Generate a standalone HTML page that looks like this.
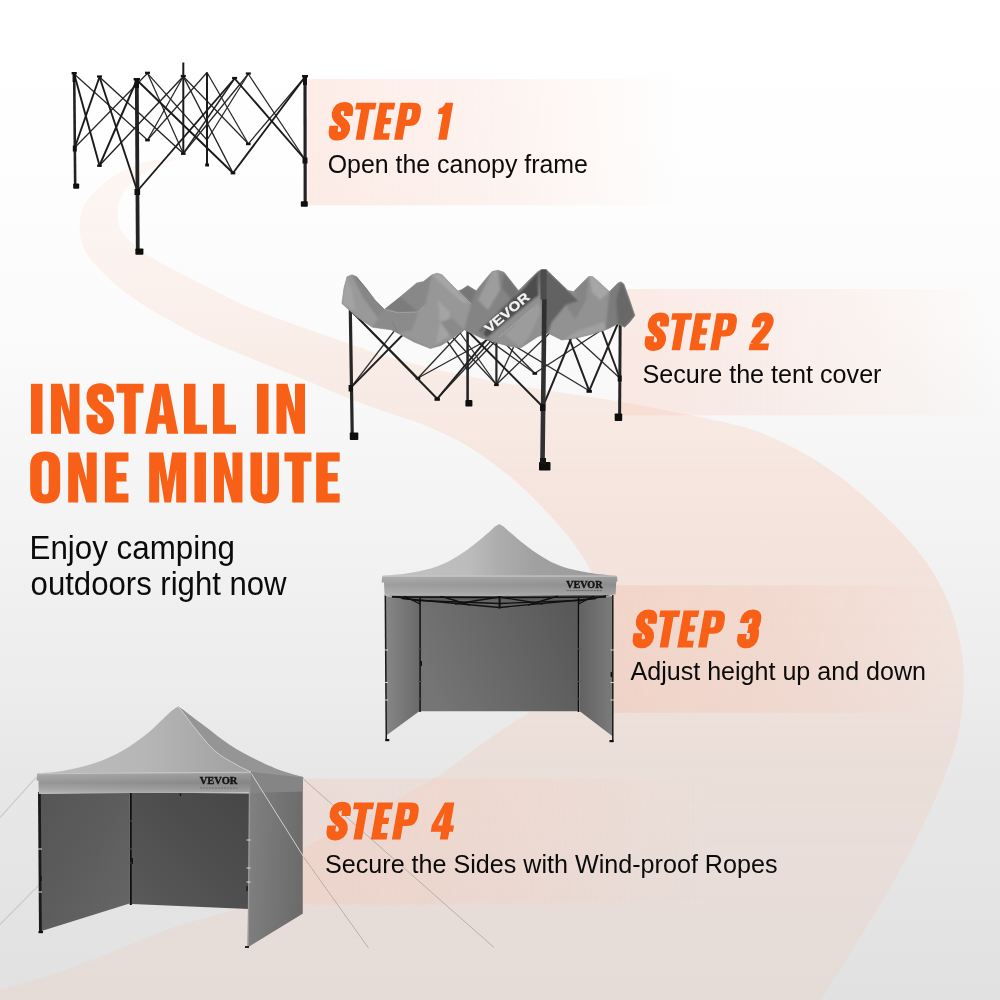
<!DOCTYPE html>
<html><head><meta charset="utf-8"><title>Install in one minute</title>
<style>
html,body{margin:0;padding:0;background:#fff;}
#root{position:relative;width:1000px;height:1000px;overflow:hidden;background:linear-gradient(180deg,#ffffff 0%,#fefefe 15%,#fbfbfb 32%,#f4f4f4 50%,#eeeeee 65%,#e8e8e8 76%,#e1e1e1 100%);}
svg{position:absolute;left:0;top:0;will-change:transform;}
text{font-family:"Liberation Sans",sans-serif;}
</style></head><body><div id="root">
<svg width="1000" height="1000" viewBox="0 0 1000 1000">
<defs>
<linearGradient id="rib" x1="0" y1="160" x2="0" y2="1000" gradientUnits="userSpaceOnUse">
<stop offset="0" stop-color="#fabea5" stop-opacity="0.12"/>
<stop offset="0.1" stop-color="#fabea5" stop-opacity="0.14"/>
<stop offset="0.24" stop-color="#fabea5" stop-opacity="0.22"/>
<stop offset="0.41" stop-color="#fabea5" stop-opacity="0.28"/>
<stop offset="0.58" stop-color="#fabea5" stop-opacity="0.25"/>
<stop offset="0.70" stop-color="#fabea5" stop-opacity="0.21"/>
<stop offset="0.93" stop-color="#fabea5" stop-opacity="0.17"/>
<stop offset="1" stop-color="#fabea5" stop-opacity="0.16"/>
</linearGradient>
<linearGradient id="band" x1="0" y1="0" x2="1" y2="0">
<stop offset="0" stop-color="#fabeaa" stop-opacity="0.28"/>
<stop offset="0.5" stop-color="#fabeaa" stop-opacity="0.17"/>
<stop offset="1" stop-color="#fabeaa" stop-opacity="0"/>
</linearGradient>
<linearGradient id="band3" x1="0" y1="0" x2="1" y2="0">
<stop offset="0" stop-color="#f2beaa" stop-opacity="0.40"/>
<stop offset="0.5" stop-color="#f2beaa" stop-opacity="0.26"/>
<stop offset="1" stop-color="#f2beaa" stop-opacity="0"/>
</linearGradient>
</defs>
<path d="M181.0,157.3 C174.6,158.2 154.8,159.1 142.6,162.9 C130.4,166.7 117.7,172.4 107.8,180.0 C97.8,187.6 87.2,197.7 82.9,208.6 C78.7,219.4 78.6,234.0 82.4,245.1 C86.1,256.3 96.6,266.3 105.6,275.4 C114.6,284.6 125.4,292.5 136.1,299.9 C146.8,307.4 158.2,313.7 169.6,320.2 C180.9,326.6 192.4,332.9 204.2,338.6 C216.0,344.2 228.1,349.0 240.2,354.1 C252.2,359.1 264.4,363.8 276.5,368.6 C288.7,373.5 300.9,378.2 312.9,383.2 C325.0,388.2 336.9,393.7 349.0,398.5 C361.1,403.4 373.4,407.8 385.7,412.1 C398.0,416.4 410.7,419.7 422.8,424.4 C434.9,429.2 446.9,434.6 458.3,440.8 C469.7,447.1 480.7,454.2 491.3,461.9 C501.8,469.6 511.8,478.0 521.4,486.8 C531.1,495.6 540.2,505.0 549.0,514.6 C557.9,524.2 566.9,533.8 574.4,544.4 C581.8,554.9 589.5,565.9 593.7,577.9 C597.9,589.8 599.7,603.4 599.7,616.1 C599.7,628.8 598.6,642.7 593.9,654.1 C589.3,665.4 581.0,675.7 571.8,684.3 C562.7,692.9 550.2,698.7 539.3,705.8 C528.3,713.0 517.2,719.8 506.3,727.1 C495.5,734.4 484.8,741.9 474.2,749.5 C463.6,757.1 453.5,765.5 442.6,772.7 C431.8,779.9 420.4,786.3 409.0,792.7 C397.6,799.1 385.9,804.9 374.3,811.0 C362.8,817.1 351.2,823.2 339.7,829.3 C328.2,835.5 315.8,840.3 305.3,847.8 C294.8,855.3 285.8,864.9 276.7,874.1 C267.6,883.2 261.0,895.9 250.8,902.7 C240.6,909.5 227.6,911.1 215.5,914.9 C203.4,918.7 190.4,921.5 178.0,925.7 C165.7,929.9 153.7,935.3 141.6,940.2 C129.5,945.0 117.4,949.9 105.2,954.8 C93.1,959.6 81.0,964.7 68.7,969.0 C56.4,973.3 42.8,977.2 31.3,980.7 C19.9,984.2 5.2,988.5 -0.0,990.0 L0,1000 L820,1000 L821.0,1000.0 C823.7,995.6 831.4,983.3 837.5,973.6 C843.5,963.9 850.7,952.5 857.3,942.0 C863.8,931.4 870.4,920.8 876.8,910.2 C883.2,899.5 889.6,888.8 895.7,878.0 C901.8,867.1 907.5,856.1 913.2,845.0 C918.8,833.9 924.3,822.7 929.5,811.4 C934.7,800.1 939.8,788.8 944.3,777.2 C948.8,765.6 953.4,754.0 956.4,742.0 C959.4,730.0 961.3,717.6 962.5,705.3 C963.7,693.0 964.2,680.4 963.4,668.1 C962.6,655.8 960.6,643.4 957.7,631.4 C954.7,619.5 950.7,607.6 945.7,596.3 C940.7,585.1 934.4,574.2 927.5,564.0 C920.5,553.8 912.2,544.4 903.9,535.1 C895.6,525.9 886.7,517.2 877.6,508.7 C868.5,500.2 859.2,492.0 849.5,484.2 C839.8,476.5 829.7,469.1 819.3,462.4 C808.8,455.8 797.8,449.8 786.7,444.3 C775.5,438.9 764.1,433.7 752.4,429.7 C740.7,425.7 728.6,423.1 716.5,420.4 C704.4,417.6 692.1,415.6 679.9,413.2 C667.7,410.7 655.5,408.0 643.3,405.7 C631.1,403.4 618.8,401.3 606.5,399.4 C594.2,397.4 581.9,396.0 569.6,394.1 C557.3,392.2 545.0,390.0 532.7,387.9 C520.5,385.8 508.2,383.6 496.0,381.4 C483.7,379.2 471.5,377.1 459.3,374.6 C447.1,372.1 435.0,369.2 422.9,366.2 C410.9,363.2 398.8,360.2 386.9,356.6 C375.0,353.0 363.3,348.6 351.6,344.5 C339.8,340.5 328.1,336.4 316.3,332.2 C304.6,328.1 292.8,324.0 281.2,319.7 C269.5,315.3 257.8,311.1 246.4,306.2 C235.0,301.2 224.0,295.4 212.9,289.8 C201.7,284.3 190.6,278.7 179.6,272.8 C168.7,266.9 157.0,261.7 147.2,254.5 C137.4,247.3 125.1,239.2 120.7,229.6 C116.3,220.0 116.7,206.5 121.0,196.8 C125.3,187.1 136.7,177.8 146.7,171.2 C156.7,164.7 175.3,160.0 181.0,157.7 Z" fill="url(#rib)"/>
<rect x="307.5" y="79" width="375" height="126.3" fill="url(#band)"/>
<rect x="621" y="289" width="379" height="126.3" fill="url(#band)"/>
<rect x="600" y="585.2" width="350" height="127.6" fill="url(#band3)"/>
<rect x="300" y="778.5" width="410" height="126" fill="url(#band)"/>
<defs>
<linearGradient id="t3back" x1="0" y1="0.6" x2="1" y2="0.3"><stop offset="0" stop-color="#757575"/><stop offset="0.5" stop-color="#676767"/><stop offset="1" stop-color="#595959"/></linearGradient>
<linearGradient id="t3roof" x1="383" y1="0" x2="616" y2="0" gradientUnits="userSpaceOnUse"><stop offset="0" stop-color="#c2c2c2"/><stop offset="0.36" stop-color="#bcbcbc"/><stop offset="0.5" stop-color="#adadad"/><stop offset="0.66" stop-color="#a0a0a0"/><stop offset="1" stop-color="#9b9b9b"/></linearGradient>
<linearGradient id="t3val" x1="0" y1="0" x2="0" y2="1"><stop offset="0" stop-color="#c6c6c6"/><stop offset="0.08" stop-color="#a6a6a6"/><stop offset="0.45" stop-color="#979797"/><stop offset="0.85" stop-color="#a7a7a7"/><stop offset="1" stop-color="#b2b2b2"/></linearGradient>
<linearGradient id="t3side" x1="0" y1="0" x2="1" y2="0"><stop offset="0" stop-color="#878787"/><stop offset="1" stop-color="#6a6a6a"/></linearGradient>
<linearGradient id="t3sideR" x1="0" y1="0" x2="1" y2="0"><stop offset="0" stop-color="#626262"/><stop offset="1" stop-color="#7b7b7b"/></linearGradient>
<linearGradient id="t4val" x1="0" y1="0" x2="0" y2="1"><stop offset="0" stop-color="#c4c4c4"/><stop offset="0.08" stop-color="#a4a4a4"/><stop offset="0.5" stop-color="#8f8f8f"/><stop offset="0.85" stop-color="#a5a5a5"/><stop offset="1" stop-color="#bababa"/></linearGradient>
<linearGradient id="valshade" x1="0" y1="0" x2="1" y2="0"><stop offset="0" stop-color="#fff" stop-opacity="0.06"/><stop offset="1" stop-color="#000" stop-opacity="0.07"/></linearGradient>
<linearGradient id="t4back" x1="1" y1="0" x2="0" y2="1"><stop offset="0" stop-color="#464646"/><stop offset="0.5" stop-color="#4f4f4f"/><stop offset="1" stop-color="#5a5a5a"/></linearGradient>
<linearGradient id="t4left" x1="0" y1="0" x2="1" y2="1"><stop offset="0" stop-color="#555555"/><stop offset="0.5" stop-color="#5d5d5d"/><stop offset="1" stop-color="#676767"/></linearGradient>
<linearGradient id="t4right" x1="0" y1="0" x2="1" y2="0.15"><stop offset="0" stop-color="#828282"/><stop offset="0.3" stop-color="#7b7b7b"/><stop offset="1" stop-color="#6c6c6c"/></linearGradient>
<linearGradient id="t4roofL" x1="37" y1="0" x2="251" y2="0" gradientUnits="userSpaceOnUse"><stop offset="0" stop-color="#bdbdbd"/><stop offset="0.5" stop-color="#b6b6b6"/><stop offset="0.8" stop-color="#a8a8a8"/><stop offset="1" stop-color="#a1a1a1"/></linearGradient>
<filter id="fblur" x="-5%" y="-5%" width="110%" height="110%"><feGaussianBlur stdDeviation="1.1"/></filter>
<linearGradient id="fabg" x1="0" y1="0" x2="0" y2="1"><stop offset="0" stop-color="#979797"/><stop offset="1" stop-color="#868686"/></linearGradient>
</defs>

<g id="frame1"><line x1="74.2" y1="74.0" x2="147.5" y2="140.0" stroke="#262626" stroke-width="1.25" />
<line x1="74.8" y1="147.5" x2="147.5" y2="73.3" stroke="#262626" stroke-width="1.25" />
<line x1="147.5" y1="73.3" x2="207.0" y2="140.0" stroke="#262626" stroke-width="1.25" />
<line x1="147.5" y1="140.0" x2="207.0" y2="72.5" stroke="#262626" stroke-width="1.25" />
<line x1="207.0" y1="72.5" x2="248.3" y2="143.8" stroke="#262626" stroke-width="1.25" />
<line x1="207.0" y1="140.0" x2="248.3" y2="74.0" stroke="#262626" stroke-width="1.25" />
<line x1="248.3" y1="74.0" x2="305.0" y2="159.5" stroke="#262626" stroke-width="1.25" />
<line x1="248.3" y1="143.8" x2="305.0" y2="77.0" stroke="#262626" stroke-width="1.25" />
<line x1="147.5" y1="73.3" x2="183.3" y2="153.5" stroke="#262626" stroke-width="1.25" />
<line x1="147.5" y1="140.0" x2="183.3" y2="76.5" stroke="#262626" stroke-width="1.25" />
<line x1="248.3" y1="74.0" x2="183.3" y2="153.5" stroke="#262626" stroke-width="1.25" />
<line x1="248.3" y1="143.8" x2="183.3" y2="76.5" stroke="#262626" stroke-width="1.25" />
<line x1="207.0" y1="72.5" x2="207.0" y2="166.0" stroke="#1a1a1a" stroke-width="2" />
<rect x="205.2" y="163.5" width="3.8" height="3" fill="#111"/>
<line x1="183.3" y1="62.5" x2="183.3" y2="154.0" stroke="#1a1a1a" stroke-width="2" />
<line x1="99.5" y1="77.0" x2="183.3" y2="153.5" stroke="#222" stroke-width="1.4" />
<line x1="99.5" y1="165.5" x2="183.3" y2="76.5" stroke="#222" stroke-width="1.4" />
<line x1="234.6" y1="78.5" x2="183.3" y2="153.5" stroke="#222" stroke-width="1.4" />
<line x1="233.0" y1="173.0" x2="183.3" y2="76.5" stroke="#222" stroke-width="1.4" />
<line x1="74.2" y1="74.0" x2="99.5" y2="165.5" stroke="#1a1a1a" stroke-width="1.9" />
<line x1="74.8" y1="147.5" x2="99.5" y2="77.0" stroke="#1a1a1a" stroke-width="1.9" />
<line x1="99.5" y1="77.0" x2="137.3" y2="191.0" stroke="#1a1a1a" stroke-width="1.9" />
<line x1="99.5" y1="165.5" x2="136.8" y2="80.0" stroke="#1a1a1a" stroke-width="1.9" />
<line x1="136.8" y1="80.0" x2="233.0" y2="173.0" stroke="#1a1a1a" stroke-width="1.9" />
<line x1="137.3" y1="191.0" x2="234.6" y2="78.5" stroke="#1a1a1a" stroke-width="1.9" />
<line x1="234.6" y1="78.5" x2="305.0" y2="159.5" stroke="#1a1a1a" stroke-width="1.9" />
<line x1="233.0" y1="173.0" x2="305.0" y2="77.0" stroke="#1a1a1a" stroke-width="1.9" />
<rect x="97.0" y="75.4" width="5" height="2.2" fill="#111"/>
<rect x="145.0" y="71.7" width="5" height="2.2" fill="#111"/>
<rect x="232.1" y="76.9" width="5" height="2.2" fill="#111"/>
<rect x="245.8" y="72.4" width="5" height="2.2" fill="#111"/>
<rect x="180.8" y="74.9" width="5" height="2.2" fill="#111"/>
<rect x="97.2" y="164.5" width="4.6" height="2.4" fill="#111"/>
<rect x="145.2" y="139.0" width="4.6" height="2.4" fill="#111"/>
<rect x="230.7" y="172.0" width="4.6" height="2.4" fill="#111"/>
<rect x="246.0" y="142.8" width="4.6" height="2.4" fill="#111"/>
<rect x="181.0" y="152.5" width="4.6" height="2.4" fill="#111"/>
<line x1="74.2" y1="74.0" x2="75.2" y2="188.0" stroke="#222" stroke-width="2.6" />
<line x1="136.8" y1="80.0" x2="137.8" y2="254.0" stroke="#232323" stroke-width="3.8" />
<line x1="305.0" y1="77.0" x2="305.2" y2="206.0" stroke="#232323" stroke-width="3.2" />
<rect x="72.6" y="73.0" width="3.2" height="9" fill="#111"/>
<rect x="71.6" y="72.0" width="5.2" height="2.4" fill="#111"/>
<rect x="134.6" y="79.0" width="4.4" height="9" fill="#111"/>
<rect x="133.6" y="78.0" width="6.4" height="2.4" fill="#111"/>
<rect x="303.0" y="76.0" width="4.0" height="9" fill="#111"/>
<rect x="302.0" y="75.0" width="6.0" height="2.4" fill="#111"/>
<rect x="72.8" y="145.5" width="4.0" height="6" fill="#111"/>
<rect x="134.5" y="189.0" width="5.6" height="6" fill="#111"/>
<rect x="302.5" y="157.5" width="5.0" height="6" fill="#111"/>
<rect x="73.2" y="183.4" width="6.0" height="5.4" rx="0.8" fill="#0e0e0e"/>
<rect x="135.4" y="248.4" width="8.0" height="6.4" rx="0.8" fill="#0e0e0e"/>
<rect x="300.8" y="201.2" width="7.0" height="5.6" rx="0.8" fill="#0e0e0e"/></g>
<g id="tent2"><line x1="350.3" y1="310.0" x2="418.0" y2="378.0" stroke="#2a2a2a" stroke-width="1.3" />
<line x1="350.8" y1="387.6" x2="418.0" y2="300.0" stroke="#2a2a2a" stroke-width="1.3" />
<line x1="418.0" y1="300.0" x2="467.6" y2="370.0" stroke="#2a2a2a" stroke-width="1.3" />
<line x1="418.0" y1="378.0" x2="467.6" y2="325.0" stroke="#2a2a2a" stroke-width="1.3" />
<line x1="467.6" y1="325.0" x2="534.8" y2="373.2" stroke="#2a2a2a" stroke-width="1.3" />
<line x1="467.6" y1="370.0" x2="535.0" y2="300.0" stroke="#2a2a2a" stroke-width="1.3" />
<line x1="535.0" y1="300.0" x2="619.7" y2="378.0" stroke="#2a2a2a" stroke-width="1.3" />
<line x1="534.8" y1="373.2" x2="620.2" y2="318.0" stroke="#2a2a2a" stroke-width="1.3" />
<line x1="418.0" y1="300.0" x2="496.4" y2="384.5" stroke="#2a2a2a" stroke-width="1.3" />
<line x1="418.0" y1="378.0" x2="496.4" y2="335.0" stroke="#2a2a2a" stroke-width="1.3" />
<line x1="535.0" y1="300.0" x2="496.4" y2="384.5" stroke="#2a2a2a" stroke-width="1.3" />
<line x1="534.8" y1="373.2" x2="496.4" y2="335.0" stroke="#2a2a2a" stroke-width="1.3" />
<line x1="437.0" y1="300.0" x2="496.4" y2="384.5" stroke="#2a2a2a" stroke-width="1.3" />
<line x1="437.2" y1="398.8" x2="496.4" y2="335.0" stroke="#2a2a2a" stroke-width="1.3" />
<line x1="589.0" y1="295.0" x2="496.4" y2="384.5" stroke="#2a2a2a" stroke-width="1.3" />
<line x1="589.2" y1="390.8" x2="496.4" y2="335.0" stroke="#2a2a2a" stroke-width="1.3" />
<line x1="467.6" y1="325.0" x2="467.6" y2="405.5" stroke="#262626" stroke-width="2.6" />
<rect x="465.4" y="400.1" width="7.0" height="6.5" rx="0.8" fill="#0e0e0e"/>
<line x1="496.4" y1="335.0" x2="496.4" y2="385.5" stroke="#262626" stroke-width="2.2" />
<rect x="415.7" y="377.0" width="4.6" height="2.6" fill="#111"/>
<rect x="532.5" y="372.2" width="4.6" height="2.6" fill="#111"/>
<rect x="494.1" y="383.5" width="4.6" height="2.6" fill="#111"/>
<line x1="350.3" y1="310.0" x2="437.2" y2="398.8" stroke="#202020" stroke-width="2" />
<line x1="350.8" y1="387.6" x2="437.0" y2="300.0" stroke="#202020" stroke-width="2" />
<line x1="437.0" y1="300.0" x2="542.8" y2="406.8" stroke="#202020" stroke-width="2" />
<line x1="437.2" y1="398.8" x2="543.8" y2="271.0" stroke="#202020" stroke-width="2" />
<line x1="543.8" y1="271.0" x2="589.2" y2="390.8" stroke="#202020" stroke-width="2" />
<line x1="542.8" y1="406.8" x2="589.0" y2="295.0" stroke="#202020" stroke-width="2" />
<line x1="589.0" y1="295.0" x2="619.7" y2="378.0" stroke="#202020" stroke-width="2" />
<line x1="589.2" y1="390.8" x2="620.2" y2="318.0" stroke="#202020" stroke-width="2" />
<rect x="434.5" y="397.8" width="5.4" height="3" fill="#111"/>
<rect x="586.5" y="389.8" width="5.4" height="3" fill="#111"/>
<line x1="350.3" y1="310.0" x2="352.3" y2="439.0" stroke="#262626" stroke-width="3.2" />
<rect x="348.6" y="385" width="4.4" height="6.5" fill="#111"/>
<rect x="349.8" y="432.5" width="8.5" height="7.5" rx="0.8" fill="#0e0e0e"/>
<line x1="620.2" y1="318.0" x2="619.6" y2="420.0" stroke="#262626" stroke-width="3" />
<rect x="617.7" y="375.5" width="4" height="6" fill="#111"/>
<rect x="614.7" y="413.5" width="7.5" height="7.5" rx="0.8" fill="#0e0e0e"/>
<clipPath id="fabclip"><path d="M341.9,303.5 L344.0,288.0 L347.0,276.8 L352.0,274.8 L356.4,276.6 L366.0,288.0 L375.0,300.0 L384.4,309.4 L400.0,297.0 L416.7,283.0 L423.5,281.4 L432.0,274.8 L437.0,273.2 L442.2,274.8 L450.0,283.0 L458.0,291.0 L462.0,289.5 L467.7,285.6 L476.2,290.7 L484.0,281.0 L492.1,271.5 L498.0,270.2 L504.0,272.2 L511.0,281.0 L518.5,290.7 L528.0,281.0 L538.0,271.4 L542.0,269.6 L546.5,269.8 L556.0,279.0 L568.0,290.5 L573.7,291.6 L581.0,284.0 L589.0,276.3 L593.0,276.8 L600.0,283.0 L609.4,291.6 L614.0,287.0 L617.9,283.0 L621.0,281.8 L623.9,283.9 L629.0,298.0 L634.9,315.4 L630.0,322.0 L624.7,327.3 L617.9,323.9 L606.0,329.8 L589.0,334.9 L575.4,338.3 L561.8,340.0 L548.2,333.2 L538.0,336.6 L521.0,347.7 L510.0,346.5 L498.9,343.4 L481.9,338.3 L464.3,329.8 L452.4,338.3 L441.0,345.5 L430.3,348.5 L414.0,342.0 L398.0,333.2 L391.2,329.8 L372.5,327.3 L357.0,317.0 L341.9,303.5Z"/></clipPath>
<path d="M341.9,303.5 L344.0,288.0 L347.0,276.8 L352.0,274.8 L356.4,276.6 L366.0,288.0 L375.0,300.0 L384.4,309.4 L400.0,297.0 L416.7,283.0 L423.5,281.4 L432.0,274.8 L437.0,273.2 L442.2,274.8 L450.0,283.0 L458.0,291.0 L462.0,289.5 L467.7,285.6 L476.2,290.7 L484.0,281.0 L492.1,271.5 L498.0,270.2 L504.0,272.2 L511.0,281.0 L518.5,290.7 L528.0,281.0 L538.0,271.4 L542.0,269.6 L546.5,269.8 L556.0,279.0 L568.0,290.5 L573.7,291.6 L581.0,284.0 L589.0,276.3 L593.0,276.8 L600.0,283.0 L609.4,291.6 L614.0,287.0 L617.9,283.0 L621.0,281.8 L623.9,283.9 L629.0,298.0 L634.9,315.4 L630.0,322.0 L624.7,327.3 L617.9,323.9 L606.0,329.8 L589.0,334.9 L575.4,338.3 L561.8,340.0 L548.2,333.2 L538.0,336.6 L521.0,347.7 L510.0,346.5 L498.9,343.4 L481.9,338.3 L464.3,329.8 L452.4,338.3 L441.0,345.5 L430.3,348.5 L414.0,342.0 L398.0,333.2 L391.2,329.8 L372.5,327.3 L357.0,317.0 L341.9,303.5Z" fill="url(#fabg)" stroke="#8d8d8d" stroke-width="0.6" stroke-linejoin="round"/>
<g clip-path="url(#fabclip)"><g filter="url(#fblur)">
<polygon points="341.9,303.5 344.0,288.0 347.0,276.3 356.4,276.3 384.4,309.4 372.5,327.3 357.0,317.0" fill="#999999"/>
<polygon points="352.0,275.0 356.4,276.3 384.4,309.4 378.0,318.0 362.0,296.0" fill="#868686"/>
<polygon points="341.9,303.5 344.0,288.0 347.0,277.0 352.0,290.0 356.0,312.0" fill="#a3a3a3"/>
<polygon points="356.4,276.3 384.4,309.4 398.0,312.8 418.4,312.0 425.2,305.2 432.0,274.8 423.5,281.4 416.7,283.0 400.0,297.0" fill="#7b7b7b"/>
<polygon points="400.0,297.0 416.7,283.0 423.5,281.4 432.0,274.8 428.0,292.0 425.2,305.2 418.4,312.0" fill="#888888"/>
<polygon points="372.5,327.3 384.4,309.4 398.0,312.8 418.4,312.0 425.2,305.2 432.0,274.8 437.0,273.2 442.2,274.8 471.0,304.0 464.3,329.8 452.4,338.3 430.3,348.5 398.0,333.2 391.2,329.8" fill="#979797"/>
<polygon points="372.5,327.3 384.4,309.4 398.0,312.8 418.4,312.0 412.0,330.0 398.0,333.2 391.2,329.8" fill="#8b8b8b"/>
<polygon points="438.0,300.0 450.0,312.0 448.0,336.0 436.0,345.0 440.0,322.0" fill="#a4a4a4"/>
<polygon points="432.0,274.8 437.0,273.2 442.2,274.8 471.0,304.0 462.0,302.0 446.0,288.0" fill="#a6a6a6"/>
<polygon points="440.0,322.0 452.0,318.0 464.3,329.8 452.4,338.3" fill="#8a8a8a"/>
<polygon points="458.0,291.0 467.7,285.6 476.2,290.7 484.0,300.0 471.0,304.0" fill="#777777"/>
<polygon points="476.2,290.7 492.1,271.5 498.0,270.2 504.0,272.2 518.5,290.7 508.0,306.0 490.0,318.0 481.9,338.3 464.3,329.8 471.0,304.0" fill="#848484"/>
<polygon points="492.1,271.5 498.0,270.2 500.0,290.0 488.0,310.0 478.0,300.0" fill="#9d9d9d"/>
<polygon points="504.0,272.2 518.5,290.7 512.0,300.0 502.0,288.0" fill="#727272"/>
<polygon points="479.0,331.0 488.5,338.5 538.5,297.0 538.0,271.4 528.0,283.0" fill="#4e4e4e"/>
<polygon points="518.5,290.7 529.0,283.5 480.2,331.5 481.9,338.3 490.0,318.0 508.0,306.0" fill="#7a7a7a"/>
<polygon points="538.0,271.4 542.0,269.6 546.5,269.8 579.0,301.0 566.0,305.0 552.0,322.0 548.2,333.2 543.5,334.0 541.5,300.0" fill="#626262"/>
<polygon points="487.5,337.2 537.5,296.0 541.5,300.0 543.5,334.0 538.0,336.6 521.0,347.7 498.9,343.4" fill="#909090"/>
<polygon points="505.0,335.0 537.5,303.0 541.5,310.0 530.0,335.0 521.0,347.7" fill="#9c9c9c"/>
<polygon points="552.0,322.0 566.0,305.0 579.0,301.0 573.7,291.6 589.0,276.3 593.0,276.8 609.4,291.6 606.0,329.8 589.0,334.9 575.4,338.3 561.8,340.0 548.2,333.2" fill="#929292"/>
<polygon points="573.7,291.6 589.0,276.3 586.0,300.0 575.0,320.0 566.0,305.0 579.0,301.0" fill="#858585"/>
<polygon points="589.0,276.3 593.0,276.8 609.4,291.6 600.0,300.0 592.0,292.0" fill="#a6a6a6"/>
<polygon points="561.8,340.0 575.4,338.3 589.0,334.9 606.0,329.8 604.0,322.0 580.0,330.0" fill="#a0a0a0"/>
<polygon points="609.4,291.6 617.9,283.0 621.0,281.8 616.0,300.0 617.9,323.9 606.0,329.8" fill="#7b7b7b"/>
<polygon points="621.0,281.8 623.9,283.9 634.9,315.4 624.7,327.3 617.9,323.9 616.0,300.0" fill="#676767"/>
</g>
<line x1="356.4" y1="277.0" x2="384.4" y2="309.4" stroke="#737373" stroke-width="0.8" />
<line x1="384.4" y1="309.4" x2="398.0" y2="312.8" stroke="#a8a8a8" stroke-width="0.8" />
<line x1="398.0" y1="312.8" x2="418.4" y2="312.0" stroke="#a8a8a8" stroke-width="0.8" />
<line x1="418.4" y1="312.0" x2="425.2" y2="305.2" stroke="#a8a8a8" stroke-width="0.8" />
<line x1="442.2" y1="275.0" x2="471.0" y2="304.0" stroke="#b0b0b0" stroke-width="0.8" />
<line x1="546.5" y1="270.0" x2="579.0" y2="301.0" stroke="#8a8a8a" stroke-width="0.8" />
<line x1="398.0" y1="333.2" x2="392.0" y2="321.0" stroke="#7a7a7a" stroke-width="0.8" />
<line x1="593.0" y1="277.0" x2="609.4" y2="291.6" stroke="#b0b0b0" stroke-width="0.8" />
<line x1="623.9" y1="284.0" x2="634.9" y2="315.4" stroke="#8a8a8a" stroke-width="0.8" />
</g>
<text transform="translate(489.3,333.6) rotate(-40.5)" x="0" y="0" font-size="13" font-weight="bold" fill="#f4f4f4" stroke="#f4f4f4" stroke-width="0.3" textLength="54" lengthAdjust="spacingAndGlyphs">VEVOR</text>
<line x1="499" y1="337" x2="533" y2="308.5" stroke="#b0b0b0" stroke-width="0.9" stroke-dasharray="2 1"/>
<line x1="544.4" y1="299.0" x2="542.4" y2="469.0" stroke="#303030" stroke-width="4.6" />
<rect x="540.6" y="269.5" width="6" height="30" fill="#4c4c4c"/>
<rect x="540" y="404" width="5.4" height="7" fill="#111"/>
<rect x="539.0" y="462.1" width="11.5" height="8.5" rx="0.8" fill="#0e0e0e"/>
<rect x="540" y="458" width="6" height="6" fill="#151515"/></g>
<g id="tent3"><polygon points="385.0,594.5 612.8,594.5 579.0,604.0 420.0,604.0" fill="#5c5c5c" />
<polygon points="420.0,600.0 578.5,600.0 578.5,711.3 420.0,711.3" fill="url(#t3back)" />
<polygon points="385.0,596.0 419.3,599.0 419.3,711.3 386.3,735.5" fill="url(#t3side)" />
<polygon points="579.3,599.0 612.8,596.0 612.8,736.5 579.8,711.3" fill="url(#t3sideR)" />
<line x1="402.0" y1="598.5" x2="499.3" y2="607.5" stroke="#111" stroke-width="1.35" />
<line x1="499.3" y1="607.5" x2="596.0" y2="598.5" stroke="#111" stroke-width="1.35" />
<line x1="392.0" y1="597.0" x2="499.3" y2="597.5" stroke="#111" stroke-width="1.35" />
<line x1="499.3" y1="597.5" x2="606.0" y2="597.0" stroke="#111" stroke-width="1.35" />
<line x1="420.0" y1="600.5" x2="499.3" y2="603.5" stroke="#111" stroke-width="1.35" />
<line x1="499.3" y1="603.5" x2="578.5" y2="600.5" stroke="#111" stroke-width="1.35" />
<line x1="404.0" y1="596.0" x2="420.0" y2="604.0" stroke="#111" stroke-width="1.35" />
<line x1="594.0" y1="596.0" x2="578.5" y2="604.0" stroke="#111" stroke-width="1.35" />
<line x1="392.0" y1="596.0" x2="420.0" y2="601.0" stroke="#111" stroke-width="1.35" />
<line x1="606.0" y1="596.0" x2="578.5" y2="601.0" stroke="#111" stroke-width="1.35" />
<line x1="440.0" y1="596.0" x2="470.0" y2="605.0" stroke="#111" stroke-width="1.35" />
<line x1="558.0" y1="596.0" x2="528.0" y2="605.0" stroke="#111" stroke-width="1.35" />
<line x1="455.0" y1="604.0" x2="499.3" y2="597.0" stroke="#111" stroke-width="1.35" />
<line x1="543.0" y1="604.0" x2="499.3" y2="597.0" stroke="#111" stroke-width="1.35" />
<line x1="499.6" y1="595.0" x2="499.6" y2="608.5" stroke="#111" stroke-width="2" />
<line x1="420.0" y1="598.0" x2="420.0" y2="712.0" stroke="#0c0c0c" stroke-width="1.6" />
<line x1="578.6" y1="598.0" x2="578.6" y2="712.0" stroke="#0c0c0c" stroke-width="1.6" />
<line x1="385.3" y1="595.0" x2="386.3" y2="741.0" stroke="#1a1a1a" stroke-width="1.5" />
<line x1="612.8" y1="595.0" x2="612.8" y2="742.0" stroke="#1a1a1a" stroke-width="1.5" />
<rect x="385.3" y="739" width="4" height="2.2" fill="#111"/>
<rect x="609.5" y="740" width="4" height="2.2" fill="#111"/>
<line x1="384.5" y1="650.0" x2="388.0" y2="650.0" stroke="#d8d8d8" stroke-width="1" />
<line x1="418.0" y1="649.0" x2="422.0" y2="649.0" stroke="#555" stroke-width="1" />
<line x1="577.0" y1="649.0" x2="581.0" y2="649.0" stroke="#555" stroke-width="1" />
<line x1="610.5" y1="650.0" x2="614.0" y2="650.0" stroke="#d8d8d8" stroke-width="1" />
<line x1="384.5" y1="682.5" x2="388.0" y2="682.5" stroke="#d8d8d8" stroke-width="1" />
<line x1="418.0" y1="681.5" x2="422.0" y2="681.5" stroke="#555" stroke-width="1" />
<line x1="577.0" y1="681.5" x2="581.0" y2="681.5" stroke="#555" stroke-width="1" />
<line x1="610.5" y1="682.5" x2="614.0" y2="682.5" stroke="#d8d8d8" stroke-width="1" />
<line x1="384.5" y1="700.0" x2="388.0" y2="700.0" stroke="#d8d8d8" stroke-width="1" />
<line x1="418.0" y1="699.0" x2="422.0" y2="699.0" stroke="#555" stroke-width="1" />
<line x1="577.0" y1="699.0" x2="581.0" y2="699.0" stroke="#555" stroke-width="1" />
<line x1="610.5" y1="700.0" x2="614.0" y2="700.0" stroke="#d8d8d8" stroke-width="1" />
<line x1="421.3" y1="661.0" x2="421.3" y2="666.0" stroke="#111" stroke-width="1.4" />
<line x1="611.3" y1="672.0" x2="611.3" y2="677.0" stroke="#111" stroke-width="1.4" />
<path d="M499.3,524.3 C498.6,524.7 496.6,525.3 495.0,526.5 C493.4,527.7 493.3,528.4 490.0,531.3 C486.7,534.2 480.4,539.6 475.0,543.8 C469.6,548.0 463.8,552.5 457.5,556.3 C451.2,560.0 445.0,563.6 437.5,566.3 C430.0,569.0 421.6,570.9 412.5,572.5 C403.4,574.1 387.9,575.4 383.0,576.0 L615.5,576 L615.5,576.0 C610.8,575.4 596.5,574.1 587.5,572.5 C578.5,570.9 569.0,569.0 561.3,566.3 C553.6,563.6 547.5,560.0 541.3,556.3 C535.0,552.5 529.2,548.0 523.8,543.8 C518.4,539.6 512.2,534.2 508.8,531.3 C505.4,528.4 505.1,527.7 503.5,526.5 C501.9,525.3 500.0,524.7 499.3,524.3 Z" fill="url(#t3roof)"/>
<polygon points="382.3,575.8 616.8,575.8 617.6,581.0 616.2,582.0 615.6,594.6 499.0,596.0 384.6,595.8 384.0,582.5 381.6,582.5" fill="url(#t3val)" />
<polygon points="382.3,575.8 616.8,575.8 615.6,594.6 384.6,595.8" fill="url(#valshade)" />
<line x1="383.0" y1="576.0" x2="616.0" y2="576.0" stroke="#c8c8c8" stroke-width="0.8" />
<text x="566.2" y="587.6" font-size="10.2" font-weight="bold" style="font-family:'Liberation Serif',serif" fill="#141414" stroke="#141414" stroke-width="0.45" textLength="36.3" lengthAdjust="spacingAndGlyphs">VEVOR</text>
<line x1="566.5" y1="590.6" x2="602.0" y2="590.6" stroke="#6a6a6a" stroke-width="1" stroke-dasharray="2.2 0.8"/></g>
<g id="tent4"><line x1="131.0" y1="792.0" x2="0.0" y2="924.5" stroke="#cdcdcd" stroke-width="1.3" />
<line x1="302.8" y1="778.5" x2="494.0" y2="947.5" stroke="#a9a4a2" stroke-width="0.8" />
<polygon points="132.0,792.5 249.0,793.5 249.0,909.0 132.0,904.0" fill="url(#t4back)" />
<polygon points="38.8,793.5 129.6,792.5 129.6,903.6 40.0,931.5" fill="url(#t4left)" />
<polygon points="249.6,772.0 302.2,778.0 302.2,914.0 247.6,947.5" fill="url(#t4right)" />
<line x1="130.8" y1="792.0" x2="130.8" y2="905.0" stroke="#0d0d0d" stroke-width="2.2" />
<line x1="39.4" y1="792.0" x2="40.4" y2="933.0" stroke="#1a1a1a" stroke-width="2.8" />
<rect x="38.5" y="931" width="4.5" height="2.2" fill="#111"/>
<line x1="249.6" y1="774.0" x2="248.2" y2="948.0" stroke="#9a9a9a" stroke-width="1.3" />
<rect x="245" y="946" width="4" height="2" fill="#222"/>
<line x1="302.2" y1="780.0" x2="302.2" y2="914.0" stroke="#6c6c6c" stroke-width="1" />
<line x1="37.5" y1="849.0" x2="42.0" y2="849.0" stroke="#ddd" stroke-width="1" />
<line x1="128.5" y1="821.0" x2="133.0" y2="821.0" stroke="#555" stroke-width="1" />
<line x1="246.5" y1="840.0" x2="250.5" y2="840.0" stroke="#ddd" stroke-width="1" />
<line x1="128.5" y1="849.0" x2="133.0" y2="849.0" stroke="#555" stroke-width="1" />
<line x1="246.5" y1="868.0" x2="250.5" y2="868.0" stroke="#ddd" stroke-width="1" />
<line x1="37.5" y1="892.0" x2="42.0" y2="892.0" stroke="#ddd" stroke-width="1" />
<line x1="128.5" y1="863.0" x2="133.0" y2="863.0" stroke="#555" stroke-width="1" />
<line x1="246.5" y1="882.0" x2="250.5" y2="882.0" stroke="#ddd" stroke-width="1" />
<line x1="132.2" y1="858.0" x2="132.2" y2="864.0" stroke="#111" stroke-width="1.5" />
<line x1="41.0" y1="876.0" x2="41.0" y2="881.0" stroke="#111" stroke-width="1.3" />
<line x1="247.0" y1="886.0" x2="247.0" y2="891.0" stroke="#111" stroke-width="1.3" />
<line x1="180.5" y1="793.5" x2="180.5" y2="796.0" stroke="#111" stroke-width="1.4" />
<path d="M178.1,706.4 C178.9,706.9 181.3,708.3 183.0,709.5 C184.7,710.7 184.2,710.6 188.0,713.5 C191.8,716.4 199.0,721.8 206.0,727.0 C213.0,732.2 221.5,739.5 230.0,745.0 C238.5,750.5 248.5,755.8 257.0,760.0 C265.5,764.2 273.2,767.7 281.0,770.5 C288.8,773.3 299.8,775.9 303.5,777.0 L303,779 L250.5,773 L251.0,772.0 C248.5,770.8 242.0,768.0 236.0,764.5 C230.0,761.0 222.0,757.2 215.0,751.0 C208.0,744.8 199.0,733.0 194.0,727.0 C189.0,721.0 187.7,718.4 185.0,715.0 C182.3,711.6 179.2,707.8 178.1,706.4 Z" fill="#959595"/>
<path d="M178.1,706.4 C177.1,707.1 174.3,708.6 172.0,710.5 C169.7,712.4 168.3,714.0 164.0,718.0 C159.7,722.0 153.0,729.0 146.0,734.5 C139.0,740.0 130.5,746.2 122.0,751.0 C113.5,755.8 104.5,759.8 95.0,763.0 C85.5,766.2 74.6,768.7 65.0,770.5 C55.4,772.3 42.1,773.1 37.5,773.6 L251,772 L251.0,772.0 C248.5,770.8 242.0,768.0 236.0,764.5 C230.0,761.0 222.0,757.2 215.0,751.0 C208.0,744.8 199.0,733.0 194.0,727.0 C189.0,721.0 187.7,718.4 185.0,715.0 C182.3,711.6 179.2,707.8 178.1,706.4 Z" fill="url(#t4roofL)"/>
<path d="M178.1,706.4 C179.2,707.8 182.3,711.6 185.0,715.0 C187.7,718.4 189.0,721.0 194.0,727.0 C199.0,733.0 208.0,744.8 215.0,751.0 C222.0,757.2 230.0,761.0 236.0,764.5 C242.0,768.0 248.5,770.8 251.0,772.0" fill="none" stroke="#c9c9c9" stroke-width="1"/>
<polygon points="37.2,773.6 251.0,772.0 250.4,792.4 131.0,793.0 38.8,794.0 38.4,780.5 36.6,780.5" fill="url(#t4val)" />
<polygon points="37.2,773.6 251.0,772.0 250.4,792.4 38.8,794.0" fill="url(#valshade)" />
<line x1="38.0" y1="773.8" x2="251.0" y2="772.2" stroke="#c6c6c6" stroke-width="0.8" />
<polygon points="251.0,772.0 302.8,777.6 302.6,791.0 250.4,792.4" fill="#858585" />
<line x1="250.4" y1="792.4" x2="302.6" y2="791.0" stroke="#8c8c8c" stroke-width="0.7" />
<line x1="36.5" y1="777.0" x2="0.0" y2="817.5" stroke="#cdcdcd" stroke-width="1.3" />
<line x1="251.3" y1="773.5" x2="304.0" y2="857.5" stroke="#cfcfcf" stroke-width="1" />
<line x1="304.0" y1="857.5" x2="368.5" y2="948.0" stroke="#a9a4a2" stroke-width="0.8" />
<text x="199.8" y="784" font-size="11.2" font-weight="bold" style="font-family:'Liberation Serif',serif" fill="#141414" stroke="#141414" stroke-width="0.45" textLength="37.6" lengthAdjust="spacingAndGlyphs">VEVOR</text>
<line x1="200.0" y1="788.0" x2="237.5" y2="788.0" stroke="#707070" stroke-width="1" stroke-dasharray="2.2 0.8"/></g>

<g transform="translate(31.00,433.80)  scale(0.5000)" fill="#f85f17" stroke="none" fill-rule="evenodd"><path transform="translate(0.00,-100)" d="M0,0H23V100H0Z"/><path transform="translate(40.00,-100)" d="M0,0H22L37,56V0H57V100H36L20,42V100H0Z"/><path transform="translate(111.00,-100)" d="M44,36V28C44,15 38,9.8 27.5,9.8C17,9.8 11,15 11,27C11,49 44,51 44,73C44,85 38,90.2 27.5,90.2C17,90.2 11,85 11,72V62" fill="none" stroke="#f85f17" stroke-width="22"/><path transform="translate(171.00,-100)" d="M0,0H54V18H38.5V100H15.5V18H0Z"/><path transform="translate(228.50,-100)" d="M0,100L20,0H46L66,100H43.5L40.5,80H25.5L22.5,100Z M28,63H38L33,22Z"/><path transform="translate(306.00,-100)" d="M0,0H23V82H46V100H0Z"/><path transform="translate(364.00,-100)" d="M0,0H23V82H46V100H0Z"/><path transform="translate(452.00,-100)" d="M0,0H23V100H0Z"/><path transform="translate(491.00,-100)" d="M0,0H22L37,56V0H57V100H36L20,42V100H0Z"/></g>
<g transform="translate(30.20,502.40)  scale(0.5000)" fill="#f85f17" stroke="none" fill-rule="evenodd"><path transform="translate(0.00,-100)" d="M30,-2C50,-2 60,8 60,28V72C60,92 50,102 30,102C10,102 0,92 0,72V28C0,8 10,-2 30,-2Z M30,16C25,16 23,19 23,25V75C23,81 25,84 30,84C35,84 37,81 37,75V25C37,19 35,16 30,16Z"/><path transform="translate(76.00,-100)" d="M0,0H22L37,56V0H57V100H36L20,42V100H0Z"/><path transform="translate(149.50,-100)" d="M0,0H47V18H23V41H43V58H23V82H47V100H0Z"/><path transform="translate(238.00,-100)" d="M0,0H28L37,58L46,0H74V100H54V36L43.5,100H30.5L20,36V100H0Z"/><path transform="translate(328.50,-100)" d="M0,0H23V100H0Z"/><path transform="translate(367.50,-100)" d="M0,0H22L37,56V0H57V100H36L20,42V100H0Z"/><path transform="translate(440.50,-100)" d="M0,0H23V76C23,82 25,84 28.5,84C32,84 34,82 34,76V0H57V74C57,93 47,102 28.5,102C10,102 0,93 0,74Z"/><path transform="translate(508.50,-100)" d="M0,0H54V18H38.5V100H15.5V18H0Z"/><path transform="translate(572.00,-100)" d="M0,0H47V18H23V41H43V58H23V82H47V100H0Z"/></g>
<g transform="translate(327.50,139.80) skewX(-10) scale(0.3700)" fill="#f85f17" stroke="none" fill-rule="evenodd"><path transform="translate(0.00,-100)" d="M44,36V28C44,15 38,9.8 27.5,9.8C17,9.8 11,15 11,27C11,49 44,51 44,73C44,85 38,90.2 27.5,90.2C17,90.2 11,85 11,72V62" fill="none" stroke="#f85f17" stroke-width="24"/><path transform="translate(60.50,-100)" d="M0,0H54V18H38.5V100H15.5V18H0Z"/><path transform="translate(123.50,-100)" d="M0,0H42V18H23V41H39V58H23V82H42V100H0Z"/><path transform="translate(180.00,-100)" d="M0,0H34C51,0 59,8 59,27V36C59,55 51,63 34,63H23V100H0Z M23,17V46H28C33,46 35.5,43.5 35.5,38V25C35.5,19.5 33,17 28,17Z"/><path transform="translate(286.20,-100)" d="M15,0H36V100H13V30H0V16C8,15 13,10 15,0Z"/></g>
<g transform="translate(643.50,350.20) skewX(-10) scale(0.3700)" fill="#f85f17" stroke="none" fill-rule="evenodd"><path transform="translate(0.00,-100)" d="M44,36V28C44,15 38,9.8 27.5,9.8C17,9.8 11,15 11,27C11,49 44,51 44,73C44,85 38,90.2 27.5,90.2C17,90.2 11,85 11,72V62" fill="none" stroke="#f85f17" stroke-width="24"/><path transform="translate(60.50,-100)" d="M0,0H54V18H38.5V100H15.5V18H0Z"/><path transform="translate(123.50,-100)" d="M0,0H42V18H23V41H39V58H23V82H42V100H0Z"/><path transform="translate(180.00,-100)" d="M0,0H34C51,0 59,8 59,27V36C59,55 51,63 34,63H23V100H0Z M23,17V46H28C33,46 35.5,43.5 35.5,38V25C35.5,19.5 33,17 28,17Z"/><path transform="translate(282.20,-100)" d="M11,38V28C11,15 17,9.8 27.5,9.8C38,9.8 44,15 44,27C44,45 24,62 14,84" fill="none" stroke="#f85f17" stroke-width="24"/><path transform="translate(282.20,-100)" d="M2,82H54V100H2Z"/></g>
<g transform="translate(631.50,647.40) skewX(-10) scale(0.3700)" fill="#f85f17" stroke="none" fill-rule="evenodd"><path transform="translate(0.00,-100)" d="M44,36V28C44,15 38,9.8 27.5,9.8C17,9.8 11,15 11,27C11,49 44,51 44,73C44,85 38,90.2 27.5,90.2C17,90.2 11,85 11,72V62" fill="none" stroke="#f85f17" stroke-width="24"/><path transform="translate(60.50,-100)" d="M0,0H54V18H38.5V100H15.5V18H0Z"/><path transform="translate(123.50,-100)" d="M0,0H42V18H23V41H39V58H23V82H42V100H0Z"/><path transform="translate(180.00,-100)" d="M0,0H34C51,0 59,8 59,27V36C59,55 51,63 34,63H23V100H0Z M23,17V46H28C33,46 35.5,43.5 35.5,38V25C35.5,19.5 33,17 28,17Z"/><path transform="translate(282.20,-100)" d="M11,34V27C11,15 17,9.8 27.5,9.8C38,9.8 43,15 43,25V32C43,43 38,48.5 24,48.5" fill="none" stroke="#f85f17" stroke-width="24"/><path transform="translate(282.20,-100)" d="M24,48.5C38,48.5 44,54 44,66V73C44,85 38,90.2 27.5,90.2C17,90.2 11,85 11,73V64" fill="none" stroke="#f85f17" stroke-width="24"/></g>
<g transform="translate(325.30,839.60) skewX(-10) scale(0.3700)" fill="#f85f17" stroke="none" fill-rule="evenodd"><path transform="translate(0.00,-100)" d="M44,36V28C44,15 38,9.8 27.5,9.8C17,9.8 11,15 11,27C11,49 44,51 44,73C44,85 38,90.2 27.5,90.2C17,90.2 11,85 11,72V62" fill="none" stroke="#f85f17" stroke-width="24"/><path transform="translate(60.50,-100)" d="M0,0H54V18H38.5V100H15.5V18H0Z"/><path transform="translate(123.50,-100)" d="M0,0H42V18H23V41H39V58H23V82H42V100H0Z"/><path transform="translate(180.00,-100)" d="M0,0H34C51,0 59,8 59,27V36C59,55 51,63 34,63H23V100H0Z M23,17V46H28C33,46 35.5,43.5 35.5,38V25C35.5,19.5 33,17 28,17Z"/><path transform="translate(281.30,-100)" d="M24,0H50V62H60V79H50V100H28V79H0V62Z M28,29L16.5,62H28Z"/></g>
<text x="327.7" y="173.2" font-size="25" fill="#0b0b0b" textLength="260.3" lengthAdjust="spacingAndGlyphs">Open the canopy frame</text>
<text x="642.5" y="383.4" font-size="25" fill="#0b0b0b" textLength="239.0" lengthAdjust="spacingAndGlyphs">Secure the tent cover</text>
<text x="630.5" y="679.5" font-size="25" fill="#0b0b0b" textLength="295.5" lengthAdjust="spacingAndGlyphs">Adjust height up and down</text>
<text x="325.0" y="872.6" font-size="25" fill="#0b0b0b" textLength="452.5" lengthAdjust="spacingAndGlyphs">Secure the Sides with Wind-proof Ropes</text>
<text x="29.5" y="558.6" font-size="33" fill="#0b0b0b" textLength="205.5" lengthAdjust="spacingAndGlyphs">Enjoy camping</text>
<text x="30.6" y="594.5" font-size="33" fill="#0b0b0b" textLength="256.0" lengthAdjust="spacingAndGlyphs">outdoors right now</text>

</svg></div></body></html>
